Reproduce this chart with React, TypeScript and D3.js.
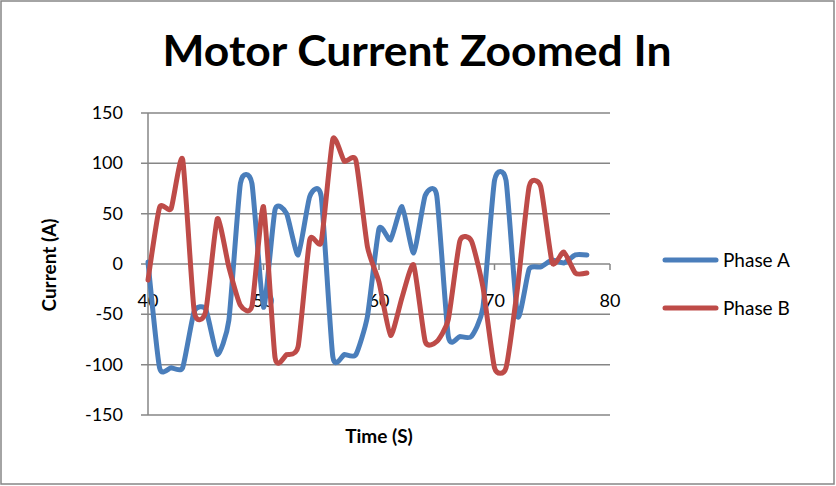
import React from "react";
import * as d3 from "d3";

// Sample times (s) and phase currents (A)
const times = [
  40, 41, 42, 43, 44, 45, 46, 47, 48, 49, 50, 51, 52, 53, 54, 55, 56, 57, 58, 59,
  60, 61, 62, 63, 64, 65, 66, 67, 68, 69, 70, 71, 72, 73, 74, 75, 76, 77, 78,
];
const phaseA = [
  2, -103, -103, -103, -47, -45, -90, -56, 80, 80, -43, 54, 50, 9, 67, 67, -92, -90, -90, -52,
  35, 24, 57, 11, 68, 68, -72, -72, -72, -43, 83, 83, -52, -5, -3, 4, 1, 9, 9,
];
const phaseB = [
  -16, 56, 55, 104, -47, -47, 45, -3, -41, -42, 57, -93, -90, -82, 24, 22, 124, 102, 103, 17,
  -18, -71, -33, -1, -77, -77, -55, 23, 23, -23, -103, -103, -23, 77, 77, 1, 12, -9, -9,
];
const seriesNames = ["Phase A", "Phase B"];
const seriesColors = ["#4A7EBB", "#BE4B48"];
const xTicks = [40, 50, 60, 70, 80];
const yTicks = [-150, -100, -50, 0, 50, 100, 150];

const W = 836;
const H = 486;
const FONT = "Lato, 'Open Sans', sans-serif";
const GRID = "#868686";

export default function App() {
  const x = d3.scaleLinear().domain([40, 80]).range([148, 610]);
  const y = d3.scaleLinear().domain([-150, 150]).range([415, 113]);

  const line = d3
    .line<number>()
    .x((_, i) => x(times[i]))
    .y((d) => y(d))
    .curve(d3.curveCardinal.tension(0.45));

  const series = [phaseA, phaseB];

  return (
    <svg
      width={W}
      height={H}
      style={{ position: "absolute", left: 0, top: 0, background: "#fff" }}
      fontFamily={FONT}
    >
      <rect x={0} y={0} width={W} height={H} fill="#fff" />
      <rect x={1} y={1} width={833} height={483} fill="none" stroke={GRID} strokeWidth={1.5} />

      <text
        x={417}
        y={66}
        textAnchor="middle"
        fontSize={42}
        fontWeight="bold"
        textLength={509}
        lengthAdjust="spacingAndGlyphs"
      >
        Motor Current Zoomed In
      </text>

      {/* horizontal gridlines and y ticks */}
      {yTicks.map((t) => (
        <g key={t}>
          <line x1={141} x2={x(80)} y1={y(t)} y2={y(t)} stroke={GRID} strokeWidth={1.5} />
          <text x={123} y={y(t) + 6} textAnchor="end" fontSize={18}>
            {t}
          </text>
        </g>
      ))}
      {/* y axis */}
      <line x1={x(40)} x2={x(40)} y1={y(150)} y2={y(-150)} stroke={GRID} strokeWidth={1.5} />

      {/* x ticks on the zero line */}
      {xTicks.map((t) => (
        <g key={t}>
          <line x1={x(t)} x2={x(t)} y1={y(0)} y2={y(0) + 6} stroke={GRID} strokeWidth={1.5} />
          <text x={x(t)} y={307} textAnchor="middle" fontSize={18}>
            {t}
          </text>
        </g>
      ))}

      {series.map((s, i) => (
        <path
          key={seriesNames[i]}
          d={line(s) ?? ""}
          fill="none"
          stroke={seriesColors[i]}
          strokeWidth={5}
          strokeLinejoin="round"
          strokeLinecap="round"
        />
      ))}

      <text x={379} y={443} textAnchor="middle" fontSize={19} fontWeight="bold">
        Time (S)
      </text>
      <text
        transform={`translate(56,265) rotate(-90)`}
        textAnchor="middle"
        fontSize={19}
        fontWeight="bold"
      >
        Current (A)
      </text>

      {seriesNames.map((n, i) => (
        <g key={n} transform={`translate(0,${260 + i * 48})`}>
          <line x1={665} x2={716} y1={0} y2={0} stroke={seriesColors[i]} strokeWidth={5} strokeLinecap="round" />
          <text x={723} y={7} fontSize={19}>
            {n}
          </text>
        </g>
      ))}
    </svg>
  );
}
